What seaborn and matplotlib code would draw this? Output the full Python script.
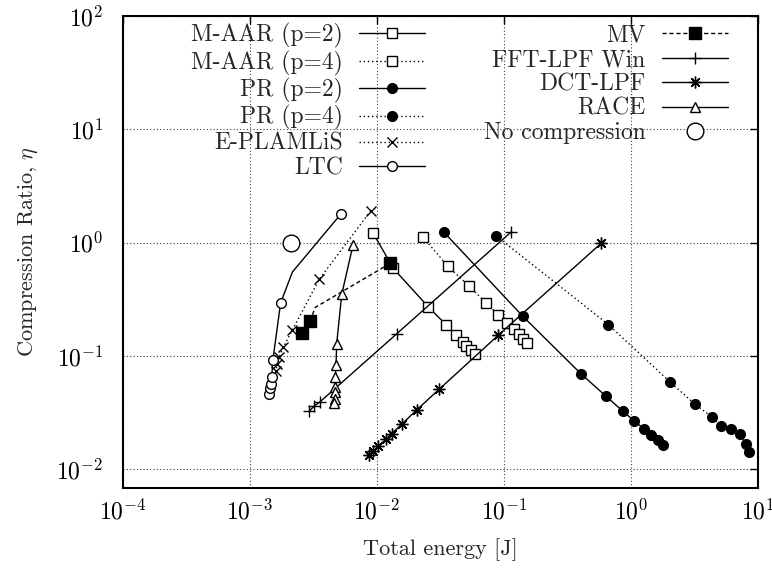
import numpy as np
import pandas as pd
import matplotlib
matplotlib.use("Agg")
import matplotlib.pyplot as plt
import matplotlib.ticker as mticker
import seaborn as sns

# ---------------- data ----------------
maar2_E   = [0.00940, 0.01352, 0.02546, 0.0353, 0.0421, 0.0475, 0.0509, 0.0548, 0.0592]
maar2_eta = [1.206, 0.592, 0.2713, 0.188, 0.1527, 0.1332, 0.1222, 0.1125, 0.1038]

maar4_E   = [0.02328, 0.0364, 0.0535, 0.0729, 0.0898, 0.1057, 0.1206, 0.1308, 0.1412, 0.1526]
maar4_eta = [1.111, 0.6166, 0.413, 0.2924, 0.2323, 0.196, 0.1724, 0.1557, 0.1427, 0.1306]

pr2_E   = [0.0336, 0.1412, 0.4036, 0.639, 0.865, 1.062, 1.273, 1.452, 1.640, 1.806]
pr2_eta = [1.245, 0.2245, 0.0701, 0.04417, 0.0327, 0.02686, 0.02275, 0.0200, 0.01807, 0.01633]

pr4_E   = [0.0870, 0.666, 2.039, 3.209, 4.366, 5.169, 6.19, 7.29, 8.09, 8.49]
pr4_eta = [1.148, 0.1897, 0.0591, 0.03753, 0.0290, 0.02415, 0.0226, 0.0204, 0.0169, 0.01426]

eplam_E   = [0.00897, 0.00353, 0.00216, 0.00184, 0.00171, 0.00164, 0.00161]
eplam_eta = [1.91, 0.476, 0.169, 0.1197, 0.0982, 0.0847, 0.0735]

ltc_E   = [0.001426, 0.001445, 0.001463, 0.00149, 0.00152, 0.00175, 0.00217, 0.00521]
ltc_eta = [0.0467, 0.0520, 0.0571, 0.0655, 0.0918, 0.294, 0.552, 1.785]

mv_E   = [0.00259, 0.00299, 0.00327, 0.01273]
mv_eta = [0.161, 0.203, 0.268, 0.655]

fft_E   = [0.00294, 0.00321, 0.00358, 0.01445, 0.114]
fft_eta = [0.0327, 0.0361, 0.0395, 0.158, 1.238]

dct_E   = [0.00875, 0.00940, 0.01030, 0.01184, 0.01312, 0.01592, 0.02066, 0.0310, 0.0907, 0.583]
dct_eta = [0.01331, 0.01452, 0.01599, 0.01845, 0.0207, 0.02536, 0.0335, 0.0509, 0.1528, 0.984]

race_E   = [0.0065, 0.00530, 0.00484, 0.00478, 0.00472, 0.00469, 0.00467, 0.00465, 0.00463]
race_eta = [0.951, 0.349, 0.129, 0.0841, 0.0655, 0.0534, 0.0479, 0.0421, 0.0386]

nocomp_E   = [0.00211]
nocomp_eta = [1.0]

labels = ["M-AAR (p=2)", "M-AAR (p=4)", "PR (p=2)", "PR (p=4)", "E-PLAMLiS", "LTC",
          "MV", "FFT-LPF Win", "DCT-LPF", "RACE", "No compression"]

# ---------------- style ----------------
sns.set_theme(style="white")
plt.rcParams.update({
    "font.family": "serif",
    "font.serif": ["cmr10", "DejaVu Serif"],
    "mathtext.fontset": "cm",
    "axes.formatter.use_mathtext": True,
    "font.size": 16,
    "axes.unicode_minus": False,
})

dot = (0, (1, 2))
series = [
    (maar2_E, maar2_eta, dict(linestyle="-", marker="s", mfc="white", ms=7.5)),
    (maar4_E, maar4_eta, dict(linestyle=dot, marker="s", mfc="white", ms=7.5)),
    (pr2_E, pr2_eta, dict(linestyle="-", marker="o", mfc="black", ms=7)),
    (pr4_E, pr4_eta, dict(linestyle=dot, marker="o", mfc="black", ms=7)),
    (eplam_E, eplam_eta, dict(linestyle=dot, marker="x", mfc="black", ms=7.5)),
    (ltc_E, ltc_eta, dict(linestyle="-", marker="o", mfc="white", ms=7, markevery=[0, 1, 2, 3, 4, 5, 7])),
    (mv_E, mv_eta, dict(linestyle=(0, (3, 2)), marker="s", mfc="black", ms=8, markevery=[0, 1, 3])),
    (fft_E, fft_eta, dict(linestyle="-", marker="+", mfc="black", ms=8.5)),
    (dct_E, dct_eta, dict(linestyle="-", marker=(8, 2, 0), mfc="black", ms=8.5)),
    (race_E, race_eta, dict(linestyle="-", marker="^", mfc="white", ms=7.5)),
    (nocomp_E, nocomp_eta, dict(linestyle="none", marker="o", mfc="white", ms=12)),
]

fig = plt.figure(figsize=(7.72, 5.70), dpi=100)
ax = fig.add_axes([0.159, 0.1444, 0.8225, 0.8277])

for (E, eta, st), lab in zip(series, labels):
    df = pd.DataFrame({"E": E, "eta": eta})
    sns.lineplot(data=df, x="E", y="eta", ax=ax, sort=False, estimator=None,
                 color="black", linewidth=1.0, markeredgecolor="black",
                 markeredgewidth=1.0, label=lab, **st)

ax.set_xscale("log")
ax.set_yscale("log")
ax.set_xlim(1e-4, 10)
ax.set_ylim(0.0069, 100)

ax.xaxis.set_major_locator(mticker.LogLocator(base=10, numticks=10))
ax.yaxis.set_major_locator(mticker.LogLocator(base=10, numticks=10))
ax.xaxis.set_minor_locator(mticker.NullLocator())
ax.yaxis.set_minor_locator(mticker.NullLocator())
fmt = mticker.FuncFormatter(lambda v, p: r"$10^{%d}$" % int(round(np.log10(v))))
ax.xaxis.set_major_formatter(fmt)
ax.yaxis.set_major_formatter(fmt)
ax.tick_params(which="major", direction="in", length=6, width=1, top=True, right=True,
               labelsize=17, colors="black")
ax.tick_params(axis="x", pad=8)
ax.tick_params(axis="y", pad=14)

ax.grid(True, which="major", linestyle=(0, (1, 2)), color="0.25", linewidth=0.8)
for sp in ax.spines.values():
    sp.set_color("black")
    sp.set_linewidth(1.5)

ax.set_xlabel("Total energy [J]", fontsize=16, labelpad=10)
ax.set_ylabel(r"Compression Ratio, $\eta$", fontsize=16, labelpad=12)

leg = ax.legend(ncol=2, loc="upper right", bbox_to_anchor=(0.953, 0.985),
                frameon=False, markerfirst=False, fontsize=17, handlelength=2.8,
                handletextpad=0.68, columnspacing=2.5, labelspacing=0.1,
                borderpad=0, borderaxespad=0, numpoints=1)

fig.savefig("out.png", dpi=100)
